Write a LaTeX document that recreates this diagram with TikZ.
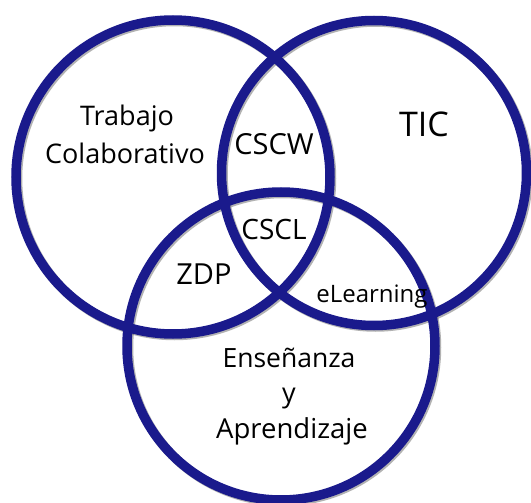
\documentclass[tikz,border=0pt]{standalone}
\usepackage{fontspec}
\setmainfont{Open Sans}
\usepackage{xcolor}
\definecolor{vennblue}{RGB}{26,26,140}

\begin{document}
\begin{tikzpicture}[x=1pt,y=-1pt,
    ring/.style={draw=vennblue, line width=9.5pt},
    ringshadow/.style={draw=black!60, line width=9.5pt, opacity=0.5},
    txt/.style={anchor=base, inner sep=0pt, font=\fontsize{27}{32}\selectfont}]
    \useasboundingbox[fill=white] (0,0) rectangle (531,503);

    % centres of the three sets
    \coordinate (trab) at (173,177);
    \coordinate (tics) at (374,173);
    \coordinate (ense) at (281,346);

    \draw[ringshadow] ([shift={(1.5,1.5)}]trab) circle[radius=157];
    \draw[ringshadow] ([shift={(1.5,1.5)}]tics) circle[radius=152.5];
    \draw[ringshadow] ([shift={(1.5,1.5)}]ense) circle[radius=154];
    \draw[ring] (trab) circle[radius=157];
    \draw[ring] (tics) circle[radius=152.5];
    \draw[ring] (ense) circle[radius=154];

    \node[txt] (trabajo) at (127,126) {Trabajo};
    \node[txt] (colab) at (125,164) {Colaborativo};
    \node[txt, font=\fontsize{34}{40}\selectfont] (tic) at (424,137) {TIC};
    \node[txt, font=\fontsize{29}{34}\selectfont] (cscw) at (274,155) {CSCW};
    \node[txt, font=\fontsize{28}{34}\selectfont] (cscl) at (274,239) {CSCL};
    \node[txt, font=\fontsize{29}{34}\selectfont] (zdp) at (204,284) {ZDP};
    \node[txt, font=\fontsize{24}{28}\selectfont] (elearn) at (372,302) {eLearning};
    \node[txt, font=\fontsize{26.5}{32}\selectfont] (ensen) at (289,367) {Enseñanza};
    \node[txt] (yy) at (289,402) {y};
    \node[txt, font=\fontsize{27.5}{32}\selectfont] (apren) at (292,438) {Aprendizaje};
\end{tikzpicture}
\end{document}
